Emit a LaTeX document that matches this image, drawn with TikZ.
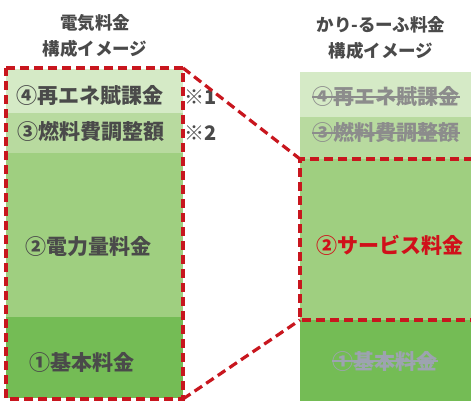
\documentclass[tikz,border=0pt]{standalone}
\usepackage{fontspec}
\setmainfont{Noto Sans CJK JP}
\definecolor{gA}{HTML}{D5EAC6}
\definecolor{gB}{HTML}{B8DA9F}
\definecolor{gC}{HTML}{9FCF80}
\definecolor{gD}{HTML}{74BC55}
\definecolor{txt}{HTML}{4A4A4A}
\definecolor{fade}{HTML}{8C8C8C}
\definecolor{fadeB}{HTML}{9DA3B0}
\definecolor{redd}{HTML}{C8161E}
\definecolor{redt}{HTML}{D0101A}
\tikzset{
  redline/.style={draw=redd, line width=3.2pt, dash pattern=on 9pt off 5pt},
  title/.style={font=\fontsize{17.5}{26}\selectfont\bfseries, text=txt, align=center, inner sep=0pt},
  lbl/.style={font=\fontsize{21}{21}\selectfont\bfseries, text=txt, inner sep=0pt},
  note/.style={font=\fontsize{20}{20}\selectfont\bfseries, text=txt, inner sep=0pt, anchor=west},
  strike/.style={line width=1.4pt},
}
\begin{document}
\begin{tikzpicture}[x=1pt,y=-1pt]
\useasboundingbox (0,0) rectangle (471,401);
% left column bands
\fill[gA] (6,69) rectangle (183,113);
\fill[gB] (6,113) rectangle (183,153);
\fill[gC] (6,153) rectangle (183,317);
\fill[gD] (6,317) rectangle (183,398);
% right column bands
\fill[gA] (300,72) rectangle (471,117);
\fill[gB] (300,117) rectangle (471,159);
\fill[gC] (300,159) rectangle (471,320);
\fill[gD] (300,320) rectangle (471,401);
% titles
\node[title] (t1) at (95,36) {電気料金\\構成イメージ};
\node[title] (t2) at (381,38) {かり-るーふ料金\\構成イメージ};
% left labels
\node[lbl] (l4) at (90,96) {④再エネ賦課金};
\node[lbl] (l3) at (91,132) {③燃料費調整額};
\node[lbl] (l2) at (88,247) {②電力量料金};
\node[lbl] (l1) at (82,362) {①基本料金};
\node[note] (n1) at (184,97) {※1};
\node[note] (n2) at (184,133) {※2};
% right labels
\node[lbl, text=fade] (r4) at (386,97) {④再エネ賦課金};
\node[lbl, text=fade] (r3) at (386,133) {③燃料費調整額};
\node[lbl, text=redt] (r2) at (390,245) {②サービス料金};
\node[lbl, text=fadeB] (r1) at (385,361) {①基本料金};
\draw[strike, fade] (r4.west) -- (r4.east);
\draw[strike, fade] (r3.west) -- (r3.east);
\draw[strike, fadeB] (r1.west) -- (r1.east);
% dashed frames
\coordinate (Lnw) at (6,68);
\coordinate (Lne) at (183,68);
\coordinate (Lse) at (183,399);
\coordinate (Lsw) at (6,399);
\coordinate (Rnw) at (300,159);
\coordinate (Rne) at (473,159);
\coordinate (Rsw) at (300,320);
\coordinate (Rse) at (473,320);
\draw[redline] (Lnw) -- (Lne) -- (Lse) -- (Lsw) -- cycle;
\draw[redline] (Rne) -- (Rnw) -- (Rsw) -- (Rse);
\draw[redline] (Lne) -- (Rnw);
\draw[redline] (Lse) -- (Rsw);
\end{tikzpicture}
\end{document}
